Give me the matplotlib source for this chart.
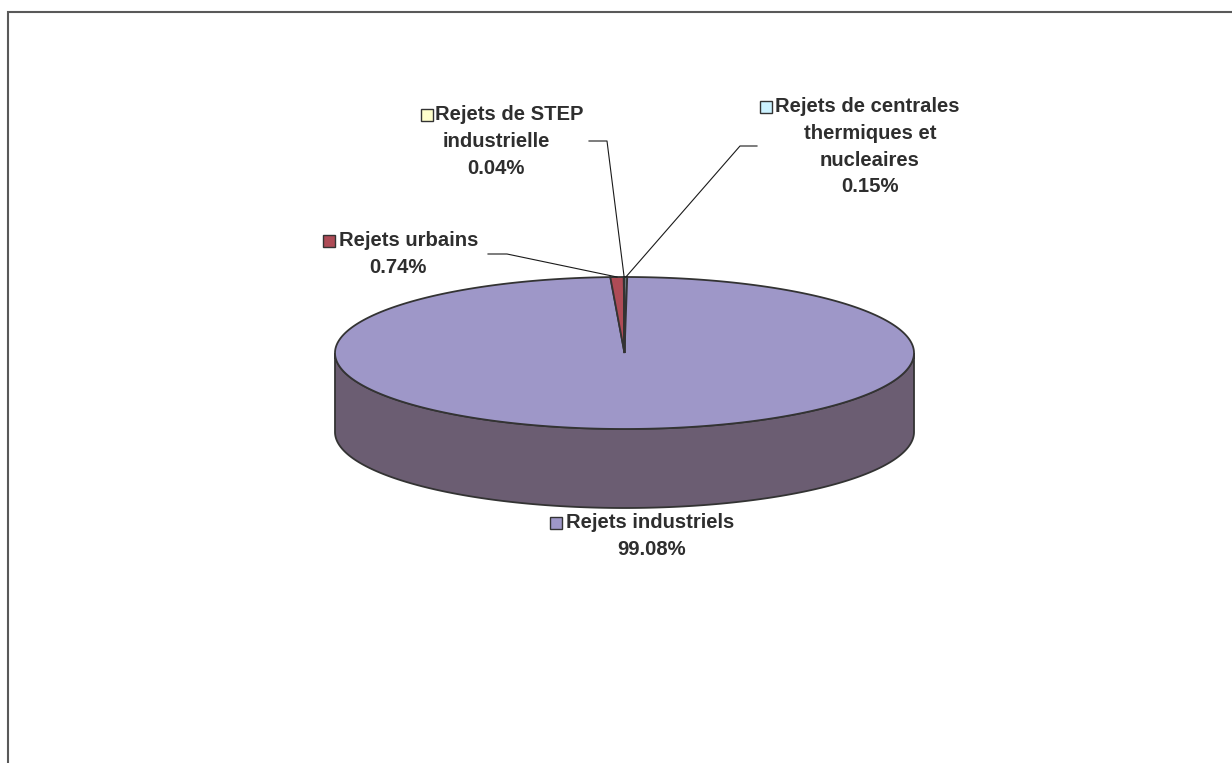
import numpy as np
import matplotlib.pyplot as plt
from matplotlib.patches import Polygon, Rectangle

# Data (clockwise from 12 o'clock, as drawn)
labels = ['Rejets de centrales\nthermiques et\nnucleaires', 'Rejets industriels',
          'Rejets urbains', 'Rejets de STEP\nindustrielle']
values = [0.15, 99.08, 0.74, 0.04]
top_colors = ['#CCF2FF', '#9E97C8', '#AE4B56', '#FFFFCC']
side_colors = ['#8FA9B3', '#6B5D72', '#7A353C', '#B3B38F']

# pie geometry in pixels
cx, cy, rx, ry, depth = 624.5, 353, 289.5, 76, 79
edge = '#333333'

plt.rcParams['font.family'] = ['Liberation Sans', 'DejaVu Sans']

fig = plt.figure(figsize=(12.32, 7.63), dpi=100)
ax = fig.add_axes([0, 0, 1, 1])
ax.set_xlim(0, 1232)
ax.set_ylim(763, 0)
ax.axis('off')

# chart border (only left and top visible)
ax.plot([8, 8, 1232], [763, 12, 12], color='#595959', lw=1.5, solid_joinstyle='miter')


def ell(t, dy=0):
    return cx + rx * np.sin(t), cy - ry * np.cos(t) + dy


fracs = np.array(values) / sum(values)
bounds = np.concatenate([[0], np.cumsum(fracs)]) * 2 * np.pi

# side walls (front half only)
for i in range(len(values)):
    a0, a1 = max(bounds[i], np.pi / 2), min(bounds[i + 1], 3 * np.pi / 2)
    if a1 <= a0:
        continue
    t = np.linspace(a0, a1, 300)
    x, y = ell(t)
    xb, yb = ell(t[::-1], depth)
    pts = np.column_stack([np.concatenate([x, xb]), np.concatenate([y, yb])])
    ax.add_patch(Polygon(pts, closed=True, fc=side_colors[i], ec=edge, lw=1.3, zorder=2))

# top faces
mids = []
for i in range(len(values)):
    t = np.linspace(bounds[i], bounds[i + 1], max(int(fracs[i] * 600), 3))
    x, y = ell(t)
    pts = np.column_stack([np.concatenate([[cx], x]), np.concatenate([[cy], y])])
    ax.add_patch(Polygon(pts, closed=True, fc=top_colors[i], ec=edge, lw=1.3, zorder=3))
    mids.append(ell((bounds[i] + bounds[i + 1]) / 2))

# labels: key box left, first line x, line-center x, first line y, leader elbow
label_pos = [
    (760, 775, 870, 107, [(757, 146), (740, 146)]),
    (550, 566, 652, 523, None),
    (323, 339, 398, 241, [(488, 254), (507, 254)]),
    (421, 435, 496, 115, [(589, 141), (607, 141)]),
]
txt_kw = dict(fontsize=14.6, fontweight='bold', color='#2e2e2e', va='center')
for i, (kx, tx, mx, ty, elbow) in enumerate(label_pos):
    lines = labels[i].split('\n') + ['%.2f%%' % values[i]]
    ax.add_patch(Rectangle((kx, ty - 6), 12, 12, fc=top_colors[i], ec='#333333',
                           lw=1.0, zorder=5))
    ax.text(tx, ty, lines[0], ha='left', **txt_kw)
    for j, ln in enumerate(lines[1:]):
        ax.text(mx, ty + 26.5 * (j + 1), ln, ha='center', **txt_kw)
    if elbow:
        xs = [p[0] for p in elbow] + [mids[i][0]]
        ys = [p[1] for p in elbow] + [mids[i][1]]
        ax.plot(xs, ys, color='#1a1a1a', lw=0.8, zorder=4)

fig.savefig('out.png', dpi=100, facecolor='white')
